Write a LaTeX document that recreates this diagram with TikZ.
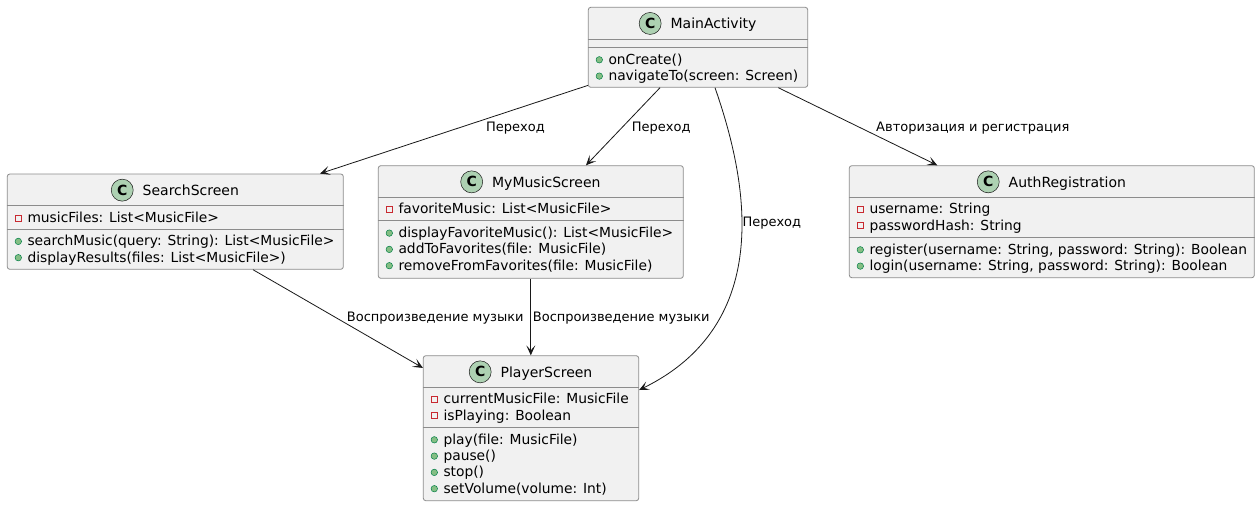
\documentclass[tikz,border=0pt]{standalone}
\usepackage{fontspec}
\setmainfont{DejaVu Sans}
\usetikzlibrary{positioning,arrows.meta}

\definecolor{classbg}{HTML}{F1F1F1}
\definecolor{ink}{HTML}{181818}
\definecolor{frame}{HTML}{8C8C8C}
\definecolor{spotbg}{HTML}{ADD1B2}
\definecolor{privred}{HTML}{C82930}
\definecolor{pubfill}{HTML}{84BE84}
\definecolor{publine}{HTML}{038048}

\tikzset{
  classbox/.style={draw=frame, line width=0.8pt, fill=classbg, rounded corners=2.5pt, inner sep=0pt},
  sepline/.style={draw=frame, line width=0.8pt},
  classname/.style={inner sep=0pt, anchor=base, font=\fontsize{14}{16}\selectfont, text height=10.5pt, text depth=0pt},
  spot/.style={circle, draw=ink, line width=0.5pt, fill=spotbg, minimum size=22pt, inner sep=0pt, font=\fontsize{14}{16}\selectfont\bfseries},
  member/.style={inner sep=0pt, anchor=base west, font=\fontsize{13.82}{16}\selectfont},
  priv/.style={draw=privred, line width=0.6pt, minimum size=6pt, inner sep=0pt},
  pub/.style={circle, draw=publine, line width=0.5pt, fill=pubfill, minimum size=6.5pt, inner sep=0pt},
  rel/.style={draw=ink, line width=0.8pt, -{Stealth[length=10pt,width=9pt,inset=5pt]}},
  rellabel/.style={inner sep=0pt, anchor=base west, font=\fontsize{13}{15}\selectfont},
}

\begin{document}
\begin{tikzpicture}[x=1pt,y=-1pt]
   \fill[white] (0,0) rectangle (1260,506);
   \useasboundingbox (0,0) rectangle (1260,506);

   % MainActivity
   \node[classbox, minimum width=219.4pt, minimum height=80pt] (main) at (698,47.3) {};
   \draw[sepline] ([yshift=-32pt]main.north west) -- ([yshift=-32pt]main.north east);
   \draw[sepline] ([yshift=-40.4pt]main.north west) -- ([yshift=-40.4pt]main.north east);
   \node[classname] (mainT) at (713.5,28.7) {MainActivity};
   \node[spot, left=9pt of mainT] {C};
   \node[pub] at (599.3,59.8) {};
   \node[member] at (608.3,64.3) {onCreate()};
   \node[pub] at (599.3,76.1) {};
   \node[member] at (608.3,80.6) {navigateTo(screen: Screen)};

   % SearchScreen
   \node[classbox, minimum width=336pt, minimum height=95.3pt] (search) at (175.3,221.65) {};
   \draw[sepline] ([yshift=-31.7pt]search.north west) -- ([yshift=-31.7pt]search.north east);
   \draw[sepline] ([yshift=-55.3pt]search.north west) -- ([yshift=-55.3pt]search.north east);
   \node[classname] (searchT) at (190.8,195.4) {SearchScreen};
   \node[spot, left=9pt of searchT] {C};
   \node[priv] at (18.3,217.8) {};
   \node[member] at (27.3,222.3) {musicFiles: List<MusicFile>};
   \node[pub] at (18.3,241.4) {};
   \node[member] at (27.3,245.9) {searchMusic(query: String): List<MusicFile>};
   \node[pub] at (18.3,257.7) {};
   \node[member] at (27.3,262.2) {displayResults(files: List<MusicFile>)};

   % MyMusicScreen
   \node[classbox, minimum width=305pt, minimum height=112.6pt] (mymusic) at (530.8,222) {};
   \draw[sepline] ([yshift=-31.6pt]mymusic.north west) -- ([yshift=-31.6pt]mymusic.north east);
   \draw[sepline] ([yshift=-55.3pt]mymusic.north west) -- ([yshift=-55.3pt]mymusic.north east);
   \node[classname] (mymusicT) at (546.3,187.1) {MyMusicScreen};
   \node[spot, left=9pt of mymusicT] {C};
   \node[priv] at (389.3,209.4) {};
   \node[member] at (398.3,213.9) {favoriteMusic: List<MusicFile>};
   \node[pub] at (389.3,233.1) {};
   \node[member] at (398.3,237.6) {displayFavoriteMusic(): List<MusicFile>};
   \node[pub] at (389.3,249.4) {};
   \node[member] at (398.3,253.9) {addToFavorites(file: MusicFile)};
   \node[pub] at (389.3,265.7) {};
   \node[member] at (398.3,270.2) {removeFromFavorites(file: MusicFile)};

   % AuthRegistration
   \node[classbox, minimum width=405pt, minimum height=112pt] (auth) at (1051.8,221.7) {};
   \draw[sepline] ([yshift=-31.6pt]auth.north west) -- ([yshift=-31.6pt]auth.north east);
   \draw[sepline] ([yshift=-72pt]auth.north west) -- ([yshift=-72pt]auth.north east);
   \node[classname] (authT) at (1067.3,187.1) {AuthRegistration};
   \node[spot, left=9pt of authT] {C};
   \node[priv] at (860.3,209.4) {};
   \node[member] at (869.3,213.9) {username: String};
   \node[priv] at (860.3,225.7) {};
   \node[member] at (869.3,230.2) {passwordHash: String};
   \node[pub] at (860.3,249.8) {};
   \node[member] at (869.3,254.3) {register(username: String, password: String): Boolean};
   \node[pub] at (860.3,266.1) {};
   \node[member] at (869.3,270.6) {login(username: String, password: String): Boolean};

   % PlayerScreen
   \node[classbox, minimum width=215.4pt, minimum height=145pt] (player) at (531,428.2) {};
   \draw[sepline] ([yshift=-31.6pt]player.north west) -- ([yshift=-31.6pt]player.north east);
   \draw[sepline] ([yshift=-72pt]player.north west) -- ([yshift=-72pt]player.north east);
   \node[classname] (playerT) at (546.5,377.1) {PlayerScreen};
   \node[spot, left=9pt of playerT] {C};
   \node[priv] at (434.3,399.4) {};
   \node[member] at (443.3,403.9) {currentMusicFile: MusicFile};
   \node[priv] at (434.3,415.7) {};
   \node[member] at (443.3,420.2) {isPlaying: Boolean};
   \node[pub] at (434.3,439.8) {};
   \node[member] at (443.3,444.3) {play(file: MusicFile)};
   \node[pub] at (434.3,456.1) {};
   \node[member] at (443.3,460.6) {pause()};
   \node[pub] at (434.3,472.4) {};
   \node[member] at (443.3,476.9) {stop()};
   \node[pub] at (434.3,488.7) {};
   \node[member] at (443.3,493.2) {setVolume(volume: Int)};

   % relations
   \draw[rel] ([yshift=2.3pt]main.south west) -- ([xshift=144.7pt]search.north);
   \draw[rel] ([xshift=-38pt]main.south) -- ([xshift=55.2pt]mymusic.north);
   \draw[rel] ([xshift=17pt]main.south) .. controls +(27,77.7) and +(143.3,-70) .. ([yshift=38.2pt]player.east);
   \draw[rel] ([xshift=80.3pt]main.south) -- ([xshift=-114.5pt]auth.north);
   \draw[rel] ([xshift=77.7pt]search.south) -- ([yshift=-12.6pt]player.north west);
   \draw[rel] (mymusic.south) -- (mymusic.south |- player.north);

   \node[rellabel] (l1) at (486,131.5) {Переход};
   \node[rellabel] (l2) at (631.7,131.5) {Переход};
   \node[rellabel] (l3) at (742.3,226.7) {Переход};
   \node[rellabel] (l4) at (876,131.7) {Авторизация и регистрация};
   \node[rellabel] (l5) at (346.7,321.7) {Воспроизведение музыки};
   \node[rellabel] (l6) at (532.7,321.7) {Воспроизведение музыки};
\end{tikzpicture}
\end{document}
